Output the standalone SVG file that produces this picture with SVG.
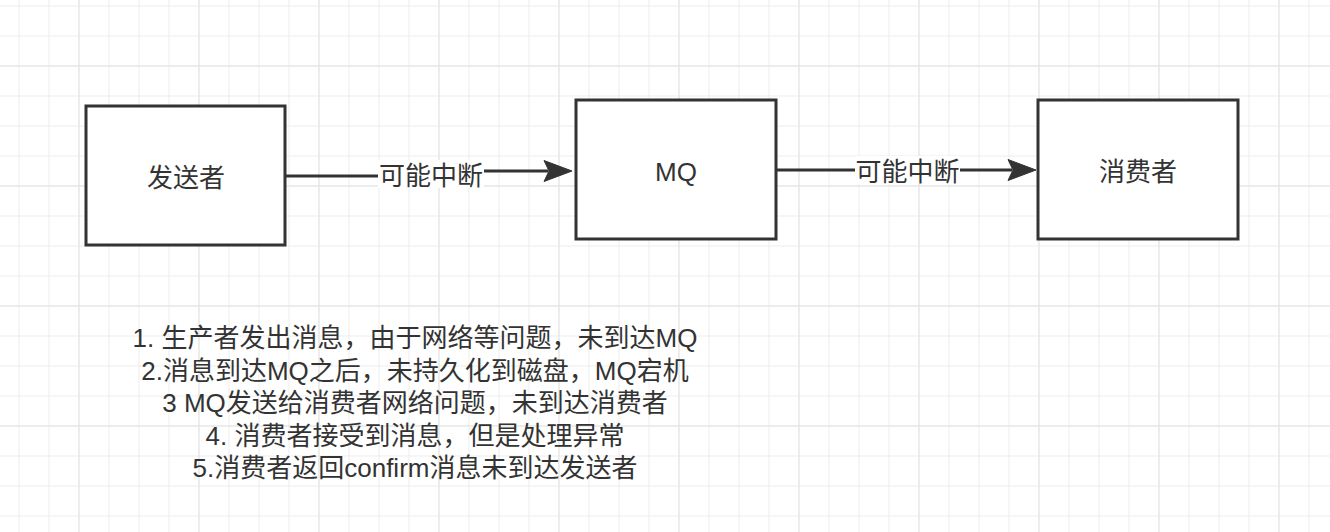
<svg xmlns="http://www.w3.org/2000/svg" width="1330" height="532" viewBox="0 0 1330 532">
  <style>
    .box { fill: #ffffff; stroke: #333333; stroke-width: 3; }
    .txt { font-family: "Liberation Sans", "Noto Sans CJK SC", sans-serif; font-size: 26px; fill: #333333; text-anchor: middle; }
    .edge { fill: none; stroke: #333333; stroke-width: 3; }
    .head { fill: #333333; stroke: #333333; stroke-width: 1; stroke-linejoin: miter; }
    .lblbg { fill: #ffffff; }
  </style>
  <defs>
    <pattern id="minor" patternUnits="userSpaceOnUse" x="4" y="-9" width="30" height="30">
      <path d="M15,0 V30 M0,15 H30" stroke="#ededed" stroke-width="1" fill="none"/>
    </pattern>
    <pattern id="major" patternUnits="userSpaceOnUse" x="19" y="6" width="120" height="120">
      <path d="M60,0 V120 M0,60 H120" stroke="#e3e3e3" stroke-width="1" fill="none"/>
    </pattern>
  </defs>

  <g id="background">
    <rect x="0" y="0" width="1330" height="532" fill="#ffffff"/>
    <rect x="0" y="0" width="1330" height="532" fill="url(#minor)"/>
    <rect x="0" y="0" width="1330" height="532" fill="url(#major)"/>
  </g>

  <g id="connectors">
    <g id="edge-sender-mq">
      <path class="edge" d="M286,176 H431 V171 H548"/>
      <path class="head" d="M572,171 L544,160.5 L549,171 L544,181.5 Z"/>
      <rect class="lblbg" x="378" y="160" width="106" height="28"/>
      <text class="txt" x="431" y="185">可能中断</text>
    </g>
    <g id="edge-mq-consumer">
      <path class="edge" d="M777,170 H1012"/>
      <path class="head" d="M1036,170 L1008,159.5 L1013,170 L1008,180.5 Z"/>
      <rect class="lblbg" x="855" y="156" width="105" height="28"/>
      <text class="txt" x="907.5" y="180.5">可能中断</text>
    </g>
  </g>

  <g id="node-sender">
    <rect class="box" x="86" y="106" width="199" height="139"/>
    <text class="txt" x="186" y="187">发送者</text>
  </g>

  <g id="node-mq">
    <rect class="box" x="576" y="100" width="200" height="139"/>
    <text class="txt" x="676" y="181">MQ</text>
  </g>

  <g id="node-consumer">
    <rect class="box" x="1038" y="100" width="200" height="139"/>
    <text class="txt" x="1138" y="180.5">消费者</text>
  </g>

  <g id="notes">
    <text class="txt" x="415" y="347">1. 生产者发出消息，由于网络等问题，未到达MQ</text>
    <text class="txt" x="415" y="379.5">2.消息到达MQ之后，未持久化到磁盘，MQ宕机</text>
    <text class="txt" x="415" y="412">3 MQ发送给消费者网络问题，未到达消费者</text>
    <text class="txt" x="415" y="445">4. 消费者接受到消息，但是处理异常</text>
    <text class="txt" x="415" y="477">5.消费者返回confirm消息未到达发送者</text>
  </g>
</svg>
